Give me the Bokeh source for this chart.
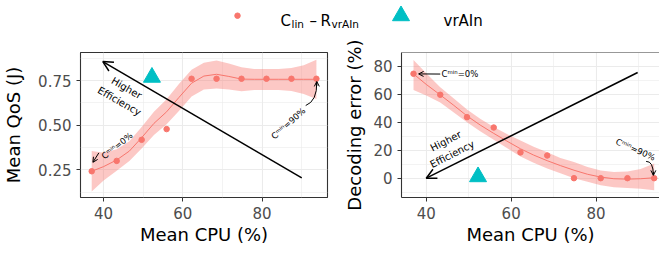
from bokeh.plotting import figure
from bokeh.models import Range1d, FixedTicker, Label, Arrow, OpenHead, Span
from bokeh.layouts import column, row
from bokeh.embed import file_html
from bokeh.resources import INLINE

# ---------------- data ----------------
cpu = [37.0, 43.3, 49.6, 55.9, 62.2, 68.5, 74.8, 81.1, 87.4, 93.7]
qos = [0.242, 0.300, 0.418, 0.478, 0.760, 0.760, 0.760, 0.760, 0.760, 0.760]
err = [74.6, 59.6, 43.6, 36.2, 18.4, 16.2, 0.0, 0.0, 0.0, 0.0]

vrain_cpu = [52.2]
vrain_qos = [0.768]
vrain_err = [1.0]

fit_cpu = [37.0, 40.0, 43.3, 46.5, 49.6, 52.7, 55.9, 59.0, 62.2, 65.3,
           68.5, 71.6, 74.8, 78.0, 81.1, 84.2, 87.4, 90.5, 93.7]
qos_fit = [0.242, 0.268, 0.305, 0.355, 0.430, 0.510, 0.575, 0.655, 0.735, 0.775,
           0.785, 0.773, 0.758, 0.757, 0.757, 0.757, 0.757, 0.757, 0.757]
qos_hi = [0.355, 0.345, 0.365, 0.410, 0.490, 0.575, 0.645, 0.730, 0.810, 0.850,
          0.862, 0.845, 0.825, 0.815, 0.815, 0.815, 0.820, 0.835, 0.866]
qos_lo = [0.128, 0.190, 0.245, 0.300, 0.370, 0.445, 0.505, 0.580, 0.660, 0.700,
          0.705, 0.700, 0.690, 0.697, 0.697, 0.697, 0.692, 0.675, 0.647]
err_fit = [74.5, 67.0, 59.5, 52.0, 44.5, 38.0, 32.0, 26.5, 21.0, 16.5,
           12.5, 9.0, 5.7, 2.8, 0.8, -0.4, -0.7, -0.4, 0.3]
err_hi = [84.5, 75.0, 65.0, 57.0, 49.0, 42.5, 36.5, 31.5, 27.0, 22.5,
          18.5, 14.5, 11.5, 8.0, 5.5, 4.5, 4.8, 6.5, 10.5]
err_lo = [63.0, 59.0, 54.0, 47.0, 40.0, 33.5, 27.5, 21.5, 15.5, 11.0,
          7.0, 3.5, 0.0, -2.5, -5.0, -6.5, -7.0, -7.5, -8.6]

x_ticks = [40, 60, 80]
x_minor = [30, 50, 70, 90]
qos_ticks = [0.25, 0.50, 0.75]
qos_minor = [0.125, 0.375, 0.625, 0.875]
qos_tick_labels = ["0.25", "0.50", "0.75"]
err_ticks = [0, 20, 40, 60, 80]
err_minor = [-10, 10, 30, 50, 70]

# ---------------- style ----------------
RED = "#F8766D"
CYAN = "#00BFC4"
FONT = "DejaVu Sans"
BORDER = "#333333"
GRID = "#EBEBEB"


def style_axes(p, yticks, yminor, xlabel, ylabel, ystand):
    p.xaxis.ticker = FixedTicker(ticks=x_ticks, minor_ticks=x_minor)
    p.yaxis.ticker = FixedTicker(ticks=yticks, minor_ticks=yminor)
    for ax in (p.xaxis[0], p.yaxis[0]):
        ax.major_label_text_font = FONT
        ax.major_label_text_font_size = "15px"
        ax.major_label_text_color = "#4D4D4D"
        ax.axis_label_text_font = FONT
        ax.axis_label_text_font_size = "18px"
        ax.axis_label_text_font_style = "normal"
        ax.axis_label_text_color = "black"
        ax.major_tick_line_color = BORDER
        ax.major_tick_out = 4
        ax.major_tick_in = 0
        ax.minor_tick_line_color = None
    p.xaxis.axis_label = xlabel
    p.yaxis.axis_label = ylabel
    p.xaxis.major_label_standoff = 5
    p.xaxis.axis_label_standoff = 2
    p.yaxis.major_label_standoff = 5
    p.yaxis.axis_label_standoff = ystand
    for g in (p.xgrid[0], p.ygrid[0]):
        g.grid_line_color = GRID
        g.grid_line_width = 1.1
        g.minor_grid_line_color = GRID
        g.minor_grid_line_width = 0.6


def lab(p, x, y, text, angle=0.0, size="8.5px", align="center", base="middle"):
    p.add_layout(Label(x=x, y=y, text=text, angle=angle, text_font=FONT,
                       text_font_size=size, text_align=align,
                       text_baseline=base, text_color="black"))


def arrow(p, x0, y0, x1, y1, lw=1.5, hs=10):
    p.add_layout(Arrow(end=OpenHead(size=hs, line_width=lw, line_color="black"),
                       x_start=x0, y_start=y0, x_end=x1, y_end=y1,
                       line_width=lw, line_color="black"))


# ---------------- header (legend) ----------------
hdr = figure(width=659, height=38, x_range=Range1d(0, 659), y_range=Range1d(38, 0),
             output_backend="svg", toolbar_location=None, min_border=0)
hdr.axis.visible = False
hdr.grid.visible = False
hdr.outline_line_color = None
hdr.scatter([237], [15.2], size=5.5, color=RED)
hdr.scatter([400.5], [15.3], marker="triangle", size=17, color=CYAN)
lab(hdr, 280, 20.7, "C", size="15px", align="left", base="alphabetic")
lab(hdr, 291.0, 23.0, "lin", size="10.5px", align="left", base="alphabetic")
lab(hdr, 309, 20.7, "–", size="15px", align="left", base="alphabetic")
lab(hdr, 320, 20.7, "R", size="15px", align="left", base="alphabetic")
lab(hdr, 331, 23.0, "vrAIn", size="10.5px", align="left", base="alphabetic")
lab(hdr, 443, 20.7, "vrAIn", size="15px", align="left", base="alphabetic")

# ---------------- left panel ----------------
pl = figure(width=330, height=217, x_range=Range1d(34.17, 96.5),
            y_range=Range1d(0.095, 0.907), output_backend="svg",
            toolbar_location=None, min_border_left=78, min_border_right=3,
            min_border_top=14, min_border_bottom=58)
pl.outline_line_color = BORDER
pl.outline_line_width = 1.1
pl.xaxis.axis_line_color = None
pl.yaxis.axis_line_color = None
style_axes(pl, qos_ticks, qos_minor, "Mean CPU (%)", "Mean QoS (J)", 11)
pl.yaxis.major_label_overrides = dict(zip(qos_ticks, qos_tick_labels))

pl.varea(x=fit_cpu, y1=qos_lo, y2=qos_hi, fill_color=RED, fill_alpha=0.4)
pl.line(fit_cpu, qos_fit, line_color=RED, line_width=1)
pl.scatter(cpu, qos, size=5.5, color=RED)
arrow(pl, 90.0, 0.205, 39.8, 0.856)
pl.scatter(vrain_cpu, vrain_qos, marker="triangle", size=17, color=CYAN)
lab(pl, 45.8, 0.708, "Higher", angle=-0.524, size="10px")
lab(pl, 44.0, 0.634, "Efficiency", angle=-0.524, size="10px")
lab(pl, 43.4, 0.385, "Cᵐⁱⁿ=0%", angle=0.675)
arrow(pl, 38.8, 0.345, 37.3, 0.292, lw=1, hs=5)
lab(pl, 86.6, 0.51, "Cᵐⁱⁿ=90%", angle=0.728)
pl.quadratic(x0=[91.0], y0=[0.61], x1=[93.8], y1=[0.742], cx=[93.9], cy=[0.635],
             line_color="black", line_width=1)
arrow(pl, 93.8, 0.72, 93.8, 0.745, lw=1, hs=5)

# ---------------- right panel ----------------
pr = figure(width=329, height=217, x_range=Range1d(34.17, 94.95),
            y_range=Range1d(-13.8, 89.8), output_backend="svg",
            toolbar_location=None, min_border_left=71, min_border_right=0,
            min_border_top=14, min_border_bottom=58)
pr.outline_line_color = None
pr.xaxis.axis_line_color = BORDER
pr.yaxis.axis_line_color = BORDER
pr.xaxis.axis_line_width = 1.1
pr.yaxis.axis_line_width = 1.1
style_axes(pr, err_ticks, err_minor, "Mean CPU (%)", "Decoding error (%)", 5)
pr.add_layout(Span(location=89.8, dimension="width", line_color=BORDER, line_width=1.1))

pr.varea(x=fit_cpu, y1=err_lo, y2=err_hi, fill_color=RED, fill_alpha=0.4)
pr.line(fit_cpu, err_fit, line_color=RED, line_width=1)
pr.scatter(cpu, err, size=5.5, color=RED)
arrow(pr, 89.8, 75.5, 40.0, 0.0)
pr.scatter(vrain_cpu, vrain_err, marker="triangle", size=17, color=CYAN)
lab(pr, 44.6, 26.5, "Higher", angle=0.471, size="10px")
lab(pr, 46.1, 17.2, "Efficiency", angle=0.471, size="10px")
lab(pr, 43.6, 74.4, "Cᵐⁱⁿ=0%", align="left")
arrow(pr, 43.3, 74.4, 38.2, 74.5, lw=1, hs=5)
lab(pr, 89.3, 20.5, "Cᵐⁱⁿ=90%", angle=-0.42)
pr.quadratic(x0=[91.8], y0=[12.0], x1=[93.5], y1=[2.2], cx=[93.5], cy=[12.2],
             line_color="black", line_width=1)
arrow(pr, 93.5, 4.5, 93.5, 2.0, lw=1, hs=5)

layout = column(hdr, row(pl, pr, spacing=0), spacing=0)
open("out.html", "w").write(file_html(layout, INLINE))
